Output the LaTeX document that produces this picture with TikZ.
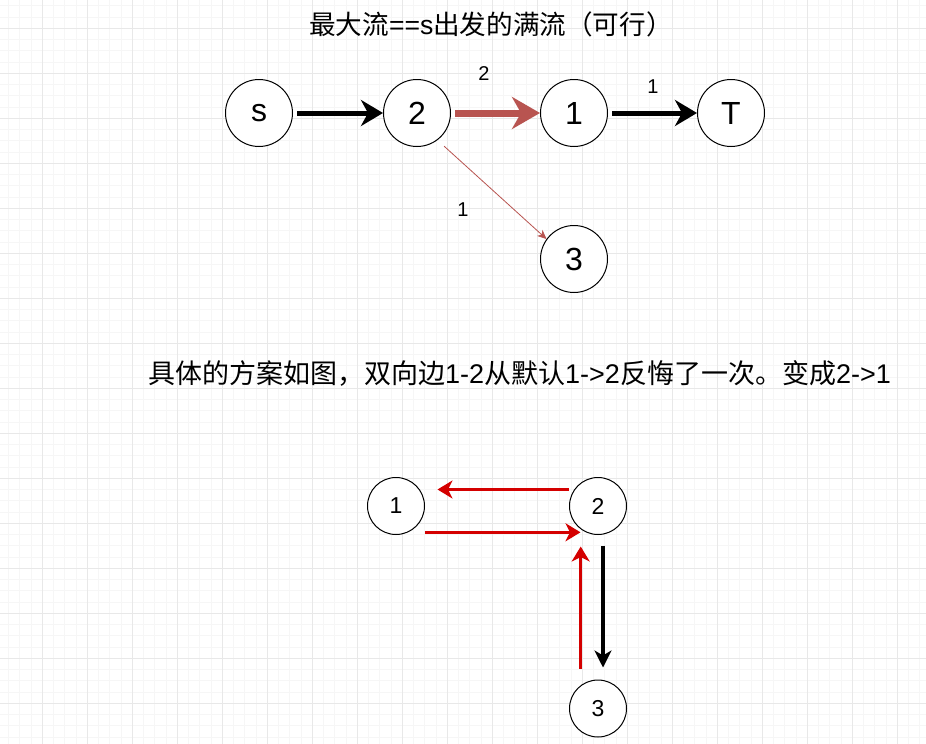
\documentclass[tikz,border=0pt]{standalone}
\usepackage{fontspec}
\setmainfont{Liberation Sans}
\newfontfamily\cjk{Noto Sans CJK SC}
\usetikzlibrary{calc, positioning, arrows.meta}
\definecolor{gridminor}{HTML}{F6F6F6}
\definecolor{gridmajor}{HTML}{E8E8E8}
\definecolor{flowred}{HTML}{B85450}
\definecolor{backred}{HTML}{D40000}

\begin{document}
\begin{tikzpicture}[x=1pt, y=-1pt,
    vertex/.style={circle, draw, line width=1pt, fill=white, inner sep=0pt,
      minimum size=67pt, font=\fontsize{32}{32}\selectfont},
    smallvertex/.style={circle, draw, line width=1pt, fill=white, inner sep=0pt,
      minimum size=57pt, font=\fontsize{23}{23}\selectfont},
    caplabel/.style={font=\fontsize{20}{20}\selectfont},
    bigarrow/.style={line width=5pt, -{Stealth[length=22pt, width=26pt, inset=7pt]}},
    redarrow/.style={backred, line width=3.2pt, -{Stealth[length=15pt, width=18pt, inset=4.5pt]}}]
  \useasboundingbox (0,0) rectangle (926,744);
  % background grid
  \fill[white] (0,0) rectangle (926,744);
  \foreach \i in {0,...,83} \draw[gridminor, line width=1pt] ({-2.7+11.25*\i},0) -- ++(0,744);
  \foreach \j in {0,...,66} \draw[gridminor, line width=1pt] (0,{5.8+11.25*\j}) -- ++(926,0);
  \foreach \i in {0,...,21} \draw[gridmajor, line width=1pt] ({-2.7+45*\i},0) -- ++(0,744);
  \foreach \j in {0,...,16} \draw[gridmajor, line width=1pt] (0,{28.3+45*\j}) -- ++(926,0);

  % titles
  \node[font=\fontsize{26.6}{30}\selectfont] (title) at (491,24)
    {{\cjk 最大流}==s{\cjk 出发的满流（可行）}};
  \node[font=\fontsize{27}{30}\selectfont] (note) at (519.5,373)
    {{\cjk 具体的方案如图，双向边}1-2{\cjk 从默认}1->2{\cjk 反悔了一次。变成}2->1};

  % flow network
  \node[vertex] (s) at (259,113) {s};
  \node[vertex] (v2) at (417,113) {2};
  \node[vertex] (v1) at (574,113) {1};
  \node[vertex] (T) at (731,113) {T};
  \node[vertex] (v3) at (574,259) {3};
  \draw[bigarrow, shorten <=4pt] (s) -- (v2);
  \draw[flowred, line width=7pt, shorten <=4pt,
    -{Stealth[length=28pt, width=32pt, inset=9pt]}] (v2) -- (v1);
  \draw[bigarrow, shorten <=4pt] (v1) -- (T);
  \draw[flowred, line width=0.8pt, shorten <=9pt,
    -{Stealth[length=9pt, width=8pt, inset=2.5pt]}] (v2.-53) -- (v3.144);
  \node[caplabel] (c21) at (484,74) {2};
  \node[caplabel] (c1T) at (653,87) {1};
  \node[caplabel] (c23) at (463,210) {1};

  % residual edges
  \node[smallvertex] (b1) at (396,506) {1};
  \node[smallvertex] (b2) at (598,506) {2};
  \node[smallvertex] (b3) at (598,708.5) {3};
  \draw[redarrow] ([yshift=16.5pt]b2.west) -- ([xshift=12.5pt, yshift=16.5pt]b1.east);
  \draw[redarrow] ([yshift=-26.3pt]b1.east) -- ([xshift=11.5pt, yshift=-26.3pt]b2.west);
  \draw[redarrow] ([xshift=-17.3pt, yshift=11pt]b3.north) -- ([xshift=-17.3pt, yshift=-11.5pt]b2.south);
  \draw[line width=3.2pt, -{Stealth[length=17pt, width=17pt, inset=5pt]}]
    ([xshift=5pt, yshift=-10.5pt]b2.south) -- ([xshift=5pt, yshift=12pt]b3.north);
\end{tikzpicture}
\end{document}
